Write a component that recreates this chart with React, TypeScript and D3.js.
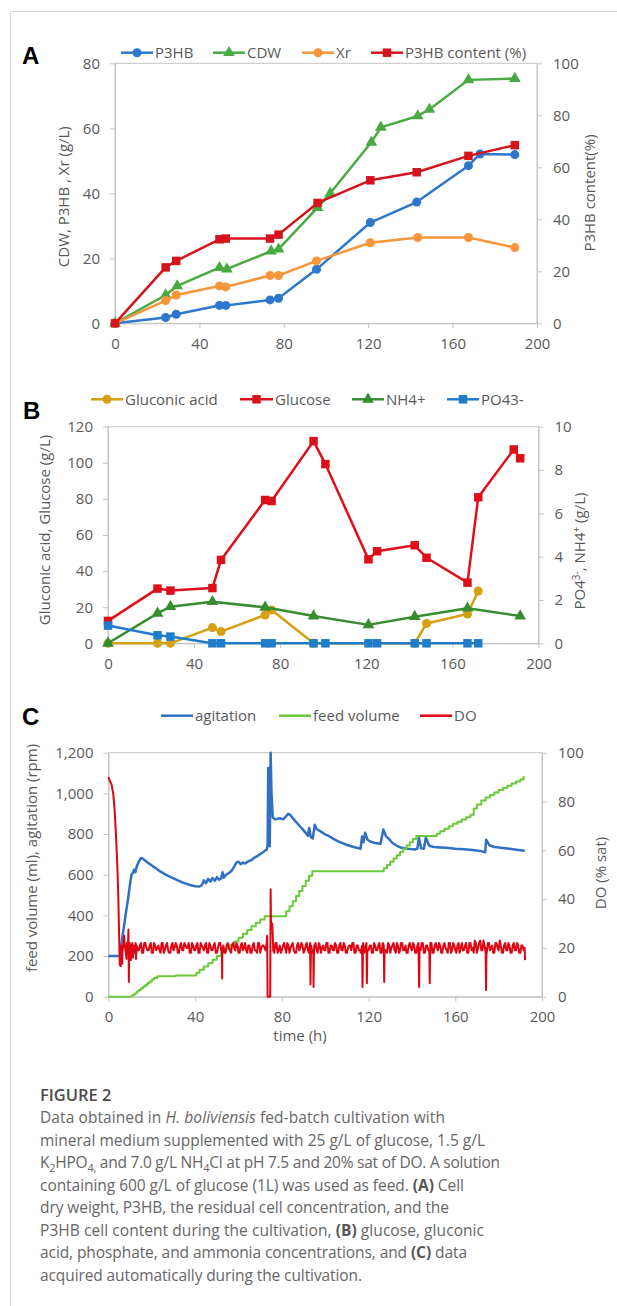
import { useEffect, useRef } from 'react';
import * as d3 from 'd3';

const FONT = '"Open Sans", sans-serif';
const INK = '#595959';
const AXIS = '#c4c4c4';

// ---------- panel A : biomass ----------
const aP3hbTimes = [0, 24, 29, 49.5, 52.5, 73.5, 77.5, 95.5, 121, 143, 167.5, 173, 189.5];
const aP3hb = [0, 1.8, 2.8, 5.5, 5.5, 7.2, 7.7, 16.6, 31, 37.3, 48.5, 52.1, 51.9];
const aCdwTimes = [0, 24, 29.5, 49.5, 53, 74, 77.5, 96, 102, 121.5, 126, 143.5, 149, 167.5, 189.5];
const aCdw = [0, 8.7, 11.5, 17.1, 16.7, 22.2, 22.8, 35.6, 40, 55.7, 60.3, 63.8, 65.8, 74.9, 75.3];
const aXrTimes = [0, 24, 29, 49.5, 52.5, 73.5, 77.5, 95.5, 121, 143.5, 167.5, 189.5];
const aXr = [0, 7.0, 8.7, 11.5, 11.2, 14.7, 14.7, 19.2, 24.8, 26.4, 26.4, 23.3];
const aContentTimes = [0, 24, 29, 49.5, 52.5, 73.5, 77.5, 96, 121, 143, 167.5, 189.5];
const aContent = [0, 21.5, 24, 32.3, 32.6, 32.6, 34.1, 46.3, 55, 58.1, 64.4, 68.5];
const aLeftTicks = [0, 20, 40, 60, 80];
const aRightTicks = [0, 20, 40, 60, 80, 100];

// ---------- panel B : substrates ----------
const bTimes = [0, 23, 29, 48.5, 52.5, 73, 76, 95.5, 101, 121, 125, 142.5, 148, 167, 172, 188.5, 191.5];
const bGlucose = [12.4, 30.3, 29.2, 30.6, 46.2, 79.4, 78.8, 112, 99.3, 46.5, 51, 54.3, 47.4, 33.6, 80.9, 107.4, 102.5];
const bGluconicTimes = [0, 23, 29, 48.5, 52.5, 73, 76, 95.5, 142.5, 148, 167, 172];
const bGluconic = [0, 0, 0, 8.7, 6.5, 15.7, 18.5, 0, 0, 11, 16.2, 29];
const bNh4Times = [0, 23, 29, 48.5, 73, 95.5, 121, 142.5, 167, 191.5];
const bNh4 = [0, 1.38, 1.69, 1.92, 1.66, 1.26, 0.85, 1.23, 1.62, 1.26];
const bPo4Times = [0, 23, 29, 48.5, 52.5, 73, 76, 95.5, 101, 121, 125, 142.5, 148, 167, 172];
const bPo4 = [0.82, 0.37, 0.31, 0, 0, 0, 0, 0, 0, 0, 0, 0, 0, 0, 0];
const bLeftTicks = [0, 20, 40, 60, 80, 100, 120];
const bRightTicks = [0, 2, 4, 6, 8, 10];

// ---------- panel C : online data ----------
const cAgitation: [number, number][] = [
  [0, 200], [5.2, 200], [5.8, 250], [6.8, 320], [8, 410], [9, 480], [10, 560], [10.6, 600], [11.2, 608], [11.8, 625],
  [12.4, 612], [13, 640], [14, 665], [15, 682], [16, 678], [17, 668], [18, 660], [20, 645], [22, 630], [24, 615],
  [26, 603], [28, 592], [30, 582], [32, 572], [34, 562], [36, 555], [38, 548], [40, 543], [42, 542], [43, 548],
  [44, 572], [45, 558], [46, 580], [47, 566], [48, 584], [49, 570], [50, 588], [51, 575], [52, 582], [52.6, 612],
  [53.2, 585], [54, 598], [55, 605], [56, 612], [57, 622], [58, 640], [59, 660], [60, 664], [61, 652], [62, 660],
  [63, 655], [64, 663], [65, 668], [66, 672], [67, 682], [68, 688], [69, 694], [70, 702], [71, 708], [72, 716],
  [73, 724], [73.4, 745], [73.7, 1125], [74.1, 880], [74.4, 740], [74.8, 1200], [75.2, 1000], [75.8, 880], [77, 872],
  [79, 878], [80.5, 872], [82, 888], [83, 900], [84, 892], [85, 878], [86, 866], [88, 842], [90, 818], [92, 792],
  [92.6, 830], [93.3, 786], [94.2, 778], [95.2, 845], [96, 825], [98, 812], [100, 798], [102, 788], [104, 775],
  [106, 764], [108, 755], [110, 746], [112, 740], [114, 734], [116.3, 728], [117, 788], [117.6, 760], [118.4, 806],
  [119.5, 772], [121, 762], [123, 756], [125.5, 752], [126.8, 822], [128, 790], [129.5, 775], [131, 756], [133, 742],
  [135, 733], [138, 728], [141.5, 724], [142.5, 728], [143.2, 782], [144.2, 730], [145.5, 728], [146.4, 782],
  [148, 742], [150, 736], [153, 734], [156, 732], [160, 728], [164, 725], [168, 722], [172, 716], [173.8, 710],
  [174.2, 772], [175.7, 745], [178, 736], [181, 733], [185, 728], [189, 722], [192, 718],
];

const cFeed: [number, number][] = [
  [0, 0], [10, 0], [11, 8], [12, 16], [13, 25], [14, 33], [15, 42], [16, 50], [17, 58], [18, 67], [19, 75], [20, 84],
  [21, 92], [22.5, 100], [31, 104], [40.5, 118], [42, 132], [44, 148], [46, 165], [48, 182], [50, 200], [52, 218],
  [54, 236], [56, 254], [58, 272], [60, 290], [62, 310], [64, 328], [66, 346], [68, 364], [70, 380], [72, 396],
  [82, 420], [83.5, 445], [85, 470], [86.5, 495], [88, 520], [89.5, 545], [91, 570], [92.5, 595], [94, 617],
  [127, 632], [128.5, 648], [130, 664], [131.5, 680], [133, 696], [134.5, 712], [136, 728], [137.5, 744], [139, 760],
  [140.5, 775], [142, 790], [151.5, 802], [153, 814], [155, 826], [157, 838], [159, 850], [161, 861], [163, 872],
  [165, 883], [167, 895], [168.5, 925], [170, 945], [172, 965], [174, 980], [176, 992], [178, 1004], [180, 1016],
  [182, 1027], [184, 1038], [186, 1048], [188, 1058], [190, 1068], [191.5, 1080], [192, 1080],
];

// DO readings on the hour, 6 h .. 192 h
const doBandStart = 6;
const doBand = [
  21, 22, 18, 21, 19, 22, 18, 21, 19, 22, 18, 22, 19, 21, 18, 22, 19, 21, 18, 22,
  19, 22, 18, 21, 19, 22, 18, 21, 19, 22, 20, 22, 18, 21, 19, 22, 18, 21, 19, 22,
  18, 21, 19, 22, 18, 22, 19, 21, 18, 22, 19, 21, 20, 22, 18, 21, 19, 22, 18, 21,
  18, 22, 19, 22, 18, 21, 20, 22, 0, 28, 19, 22, 18, 21, 19, 22, 18, 21, 20, 22,
  18, 21, 19, 22, 18, 21, 19, 22, 18, 21, 19, 22, 18, 21, 19, 22, 18, 21, 19, 21,
  18, 22, 19, 21, 18, 21, 19, 22, 18, 21, 19, 21, 18, 22, 19, 21, 18, 21, 19, 22,
  18, 21, 19, 22, 18, 21, 19, 22, 18, 22, 19, 21, 18, 22, 19, 21, 18, 22, 19, 22,
  18, 21, 19, 22, 18, 22, 19, 21, 18, 22, 19, 22, 18, 22, 19, 21, 18, 22, 19, 22,
  18, 22, 20, 23, 18, 22, 19, 23, 18, 22, 19, 21, 18, 22, 19, 21, 18, 22, 19, 21,
  18, 22, 19, 21, 18, 21, 20,
];
// DO readings on the half hour, 6.5 h .. 191.5 h
const doHalfStart = 6.5;
const doHalf = [
  19, 21, 22, 18, 20, 21, 22, 19, 21, 18, 22, 20, 19, 22, 18, 21, 20, 19, 22, 18,
  21, 19, 18, 22, 20, 21, 18, 22, 19, 21, 20, 18, 22, 19, 21, 18, 22, 20, 21, 18,
  22, 19, 21, 18, 20, 22, 19, 18, 21, 20, 18, 22, 19, 21, 18, 22, 20, 19, 21, 18,
  21, 19, 18, 22, 20, 21, 19, 0, 0, 30, 18, 22, 19, 18, 21, 20, 22, 18, 21, 19,
  18, 22, 20, 21, 19, 22, 18, 21, 19, 22, 18, 21, 20, 19, 22, 18, 21, 19, 22, 18,
  21, 19, 22, 18, 20, 21, 22, 18, 21, 19, 18, 22, 20, 19, 21, 18, 22, 19, 21, 18,
  22, 19, 18, 21, 20, 22, 18, 21, 19, 22, 19, 18, 21, 20, 22, 18, 21, 19, 22, 18,
  21, 19, 22, 18, 21, 20, 22, 18, 21, 20, 18, 22, 19, 21, 18, 22, 20, 19, 21, 18,
  22, 19, 18, 22, 20, 23, 19, 21, 18, 22, 20, 18, 22, 20, 23, 18, 21, 19, 22, 18,
  21, 19, 22, 18, 21, 19,
];
// start-up drop and short excursions of DO
const doEvents: [number, number][] = [
  [0, 90], [0.6, 88.5], [1.4, 87], [2.2, 83], [2.8, 77], [3.4, 67], [4, 55], [4.5, 42], [4.9, 25], [5.2, 13],
  [5.6, 12.5], [5.8, 19], [6.3, 13.5], [7.2, 25], [8.3, 15.5], [9.2, 27.5], [9.4, 6], [9.8, 22], [10.3, 15],
  [11.3, 16], [12.7, 15.5], [52.3, 20], [52.45, 7.5], [52.7, 19], [73.2, 25], [73.4, 0], [74.6, 0], [74.8, 44],
  [75.3, 30], [75.7, 27], [93.2, 5], [93.4, 20], [94.6, 4], [94.8, 19], [117.2, 4], [117.4, 19], [119.2, 5.5],
  [119.4, 18], [127.2, 6], [127.4, 19], [143.3, 4], [143.6, 20], [148.2, 5.5], [148.4, 19], [174.2, 2.7],
  [174.4, 20], [192.2, 15],
];
const cLeftTicks = [0, 200, 400, 600, 800, 1000, 1200];
const cRightTicks = [0, 20, 40, 60, 80, 100];

const timeTicks = [0, 40, 80, 120, 160, 200];

// ---------- caption ----------
type Seg = [string, string];
const captionLines: Seg[][] = [
  [['Data obtained in ', ''], ['H. boliviensis', 'i'], [' fed-batch cultivation with', '']],
  [['mineral medium supplemented with 25 g/L of glucose, 1.5 g/L', '']],
  [['K', ''], ['2', 'sub'], ['HPO', ''], ['4,', 'sub'], [' and 7.0 g/L NH', ''], ['4', 'sub'],
    ['Cl at pH 7.5 and 20% sat of DO. A solution', '']],
  [['containing 600 g/L of glucose (1L) was used as feed. ', ''], ['(A)', 'b'], [' Cell', '']],
  [['dry weight, P3HB, the residual cell concentration, and the', '']],
  [['P3HB cell content during the cultivation, ', ''], ['(B)', 'b'], [' glucose, gluconic', '']],
  [['acid, phosphate, and ammonia concentrations, and ', ''], ['(C)', 'b'], [' data', '']],
  [['acquired automatically during the cultivation.', '']],
];
const captionWidths = [405, 445, 460, 424, 409, 444, 427, 322];

type Sel = d3.Selection<any, any, any, any>;

function drawFrame(g: Sel, x: any, yL: any, yR: any, xT: number[], lT: number[], rT: number[], lFmt: any) {
  const [x0, x1] = x.range();
  const [yb, yt] = yL.range();
  g.append('rect').attr('x', x0).attr('y', yt).attr('width', x1 - x0).attr('height', yb - yt)
    .attr('fill', 'none').attr('stroke', AXIS);
  g.append('g').attr('transform', `translate(0,${yb})`)
    .call(d3.axisBottom(x).tickValues(xT).tickSize(5).tickSizeOuter(0).tickPadding(10));
  g.append('g').attr('transform', `translate(${x0},0)`)
    .call(d3.axisLeft(yL).tickValues(lT).tickSize(5).tickSizeOuter(0).tickPadding(10).tickFormat(lFmt));
  g.append('g').attr('transform', `translate(${x1},0)`)
    .call(d3.axisRight(yR).tickValues(rT).tickSize(5).tickSizeOuter(0).tickPadding(11));
  g.selectAll('.domain').attr('stroke', AXIS);
  g.selectAll('.tick line').attr('stroke', AXIS);
  g.selectAll('.tick text').attr('fill', INK).attr('font-size', 15).attr('font-family', FONT);
}

function drawSeries(g: Sel, pts: [number, number][], color: string, width: number, sym?: [any, number], curve?: any) {
  const line = d3.line().curve(curve || d3.curveLinear);
  g.append('path').attr('d', line(pts)).attr('fill', 'none').attr('stroke', color)
    .attr('stroke-width', width).attr('stroke-linejoin', 'round');
  if (sym) {
    g.selectAll(null).data(pts).join('path')
      .attr('transform', (d: any) => `translate(${d[0]},${d[1]})`)
      .attr('d', d3.symbol(sym[0], sym[1])())
      .attr('fill', color);
  }
}

function drawLegend(g: Sel, y: number, items: { x1: number; x2: number; label: string; color: string; sym?: [any, number] }[]) {
  items.forEach(it => {
    g.append('line').attr('x1', it.x1).attr('x2', it.x2).attr('y1', y).attr('y2', y)
      .attr('stroke', it.color).attr('stroke-width', 2.5);
    if (it.sym) {
      g.append('path').attr('transform', `translate(${(it.x1 + it.x2) / 2},${y})`)
        .attr('d', d3.symbol(it.sym[0], it.sym[1])()).attr('fill', it.color);
    }
    g.append('text').attr('x', it.x2 + 2).attr('y', y).attr('dy', '0.36em')
      .attr('font-family', FONT).attr('font-size', 15).attr('fill', INK).text(it.label);
  });
}

function vTitle(g: Sel, x: number, y: number, label: string) {
  return g.append('text').attr('transform', `translate(${x},${y}) rotate(-90)`)
    .attr('text-anchor', 'middle').attr('dy', '0.36em')
    .attr('font-family', FONT).attr('font-size', 15).attr('fill', INK).text(label);
}

function panelLetter(g: Sel, x: number, y: number, s: string) {
  g.append('text').attr('x', x).attr('y', y).attr('font-family', '"Liberation Sans", Arial, sans-serif')
    .attr('font-weight', 700).attr('font-size', 24).attr('fill', '#000').text(s);
}

const zip = (t: number[], v: number[], x: any, y: any): [number, number][] => t.map((ti, i) => [x(ti), y(v[i])]);

function App() {
  const ref = useRef<SVGSVGElement | null>(null);

  useEffect(() => {
    document.body.style.margin = '0';
    const svg = d3.select(ref.current);
    svg.selectAll('*').remove();
    svg.append('rect').attr('width', 617).attr('height', 1306).attr('fill', '#fff');
    svg.append('path').attr('d', 'M10.5,1306V11.5H617').attr('fill', 'none').attr('stroke', '#d4d4d4');

    const circle: [any, number] = [d3.symbolCircle, 64];
    const square: [any, number] = [d3.symbolSquare, 72];
    const tri: [any, number] = [d3.symbolTriangle, 60];

    // ----- A -----
    const gA = svg.append('g');
    const xA = d3.scaleLinear().domain([0, 200]).range([115, 537]);
    const yA = d3.scaleLinear().domain([0, 80]).range([323.3, 63.3]);
    const yA2 = d3.scaleLinear().domain([0, 100]).range([323.3, 63.3]);
    drawFrame(gA, xA, yA, yA2, timeTicks, aLeftTicks, aRightTicks, d3.format('d'));
    drawSeries(gA, zip(aP3hbTimes, aP3hb, xA, yA), '#2e78cc', 2.5, circle);
    drawSeries(gA, zip(aCdwTimes, aCdw, xA, yA), '#4aaa42', 2.5, tri);
    drawSeries(gA, zip(aXrTimes, aXr, xA, yA), '#f7953a', 2.5, circle);
    drawSeries(gA, zip(aContentTimes, aContent, xA, yA2), '#d3141c', 2.5, square);
    drawLegend(gA, 52.7, [
      { x1: 121, x2: 153, label: 'P3HB', color: '#2e78cc', sym: circle },
      { x1: 213, x2: 245, label: 'CDW', color: '#4aaa42', sym: tri },
      { x1: 302, x2: 334, label: 'Xr', color: '#f7953a', sym: circle },
      { x1: 371, x2: 403, label: 'P3HB content (%)', color: '#d3141c', sym: square },
    ]);
    vTitle(gA, 64, 196.7, 'CDW, P3HB , Xr (g/L)');
    vTitle(gA, 590, 193, 'P3HB content(%)');
    panelLetter(gA, 22, 64.3, 'A');

    // ----- B -----
    const gB = svg.append('g');
    const xB = d3.scaleLinear().domain([0, 200]).range([108, 538.5]);
    const yB = d3.scaleLinear().domain([0, 120]).range([643.3, 426.7]);
    const yB2 = d3.scaleLinear().domain([0, 10]).range([643.3, 426.7]);
    drawFrame(gB, xB, yB, yB2, timeTicks, bLeftTicks, bRightTicks, d3.format('d'));
    drawSeries(gB, zip(bGluconicTimes, bGluconic, xB, yB), '#d6a012', 2.5, circle);
    drawSeries(gB, zip(bTimes, bGlucose, xB, yB), '#df0f1a', 2.5, square);
    drawSeries(gB, zip(bNh4Times, bNh4, xB, yB2), '#368d2f', 2.5, tri);
    drawSeries(gB, zip(bPo4Times, bPo4, xB, yB2), '#1e7cc8', 2.5, square);
    drawLegend(gB, 399.3, [
      { x1: 91, x2: 123, label: 'Gluconic acid', color: '#d6a012', sym: circle },
      { x1: 240, x2: 273, label: 'Glucose', color: '#df0f1a', sym: square },
      { x1: 352, x2: 384, label: 'NH4+', color: '#368d2f', sym: tri },
      { x1: 447, x2: 479, label: 'PO43-', color: '#1e7cc8', sym: square },
    ]);
    vTitle(gB, 45, 530, 'Gluconic acid, Glucose (g/L)');
    const tB = gB.append('text').attr('transform', 'translate(580,551) rotate(-90)')
      .attr('text-anchor', 'middle').attr('dy', '0.36em')
      .attr('font-family', FONT).attr('font-size', 15).attr('fill', INK);
    tB.append('tspan').text('PO4');
    tB.append('tspan').attr('dy', -5).attr('font-size', 10).text('3-');
    tB.append('tspan').attr('dy', 5).text(', NH4');
    tB.append('tspan').attr('dy', -5).attr('font-size', 10).text('+');
    tB.append('tspan').attr('dy', 5).text(' (g/L)');
    panelLetter(gB, 23, 419, 'B');

    // ----- C -----
    const gC = svg.append('g');
    const xC = d3.scaleLinear().domain([0, 200]).range([108.5, 542]);
    const yC = d3.scaleLinear().domain([0, 1200]).range([996.7, 752.7]);
    const yC2 = d3.scaleLinear().domain([0, 100]).range([996.7, 752.7]);
    drawFrame(gC, xC, yC, yC2, timeTicks, cLeftTicks, cRightTicks, d3.format(','));
    const doPts = [
      ...doEvents,
      ...doBand.map((v, i) => [doBandStart + i, v] as [number, number]),
      ...doHalf.map((v, i) => [doHalfStart + i, v] as [number, number]),
    ].sort((a, b) => a[0] - b[0]);
    drawSeries(gC, cAgitation.map(d => [xC(d[0]), yC(d[1])] as [number, number]), '#2f70c4', 2.5);
    drawSeries(gC, cFeed.map(d => [xC(d[0]), yC(d[1])] as [number, number]), '#6cc93a', 2, undefined, d3.curveStepAfter);
    drawSeries(gC, doPts.map(d => [xC(d[0]), yC2(d[1])] as [number, number]), '#dd0612', 2);
    drawLegend(gC, 715.7, [
      { x1: 161, x2: 193, label: 'agitation', color: '#2f70c4' },
      { x1: 279, x2: 311, label: 'feed volume', color: '#6cc93a' },
      { x1: 420, x2: 452, label: 'DO', color: '#dd0612' },
    ]);
    vTitle(gC, 32, 858, 'feed volume (ml), agitation (rpm)');
    vTitle(gC, 601, 873, 'DO (% sat)');
    gC.append('text').attr('x', 300).attr('y', 1041).attr('text-anchor', 'middle')
      .attr('font-family', FONT).attr('font-size', 15).attr('fill', INK).text('time (h)');
    panelLetter(gC, 22, 725, 'C');

    // ----- caption -----
    const gT = svg.append('g').attr('font-family', FONT);
    gT.append('text').attr('x', 40).attr('y', 1100.5).attr('font-size', 16.5).attr('font-weight', 600)
      .attr('fill', '#4a4a4a').text('FIGURE 2');
    captionLines.forEach((segs, i) => {
      const t = gT.append('text').attr('x', 40).attr('y', 1123 + i * 22.5)
        .attr('font-size', 15.5).attr('fill', '#666')
        .attr('textLength', captionWidths[i]).attr('lengthAdjust', 'spacing');
      let shifted = false;
      segs.forEach(([s, k]) => {
        const sp = t.append('tspan').text(s);
        if (k === 'sub') {
          sp.attr('font-size', 11).attr('dy', shifted ? 0 : 4);
          shifted = true;
        } else {
          if (shifted) sp.attr('dy', -4);
          shifted = false;
          if (k === 'i') sp.attr('font-style', 'italic');
          if (k === 'b') sp.attr('font-weight', 700).attr('fill', '#555');
        }
      });
    });
  }, []);

  return <svg ref={ref} width={617} height={1306} style={{ display: 'block' }} />;
}

export default App;
